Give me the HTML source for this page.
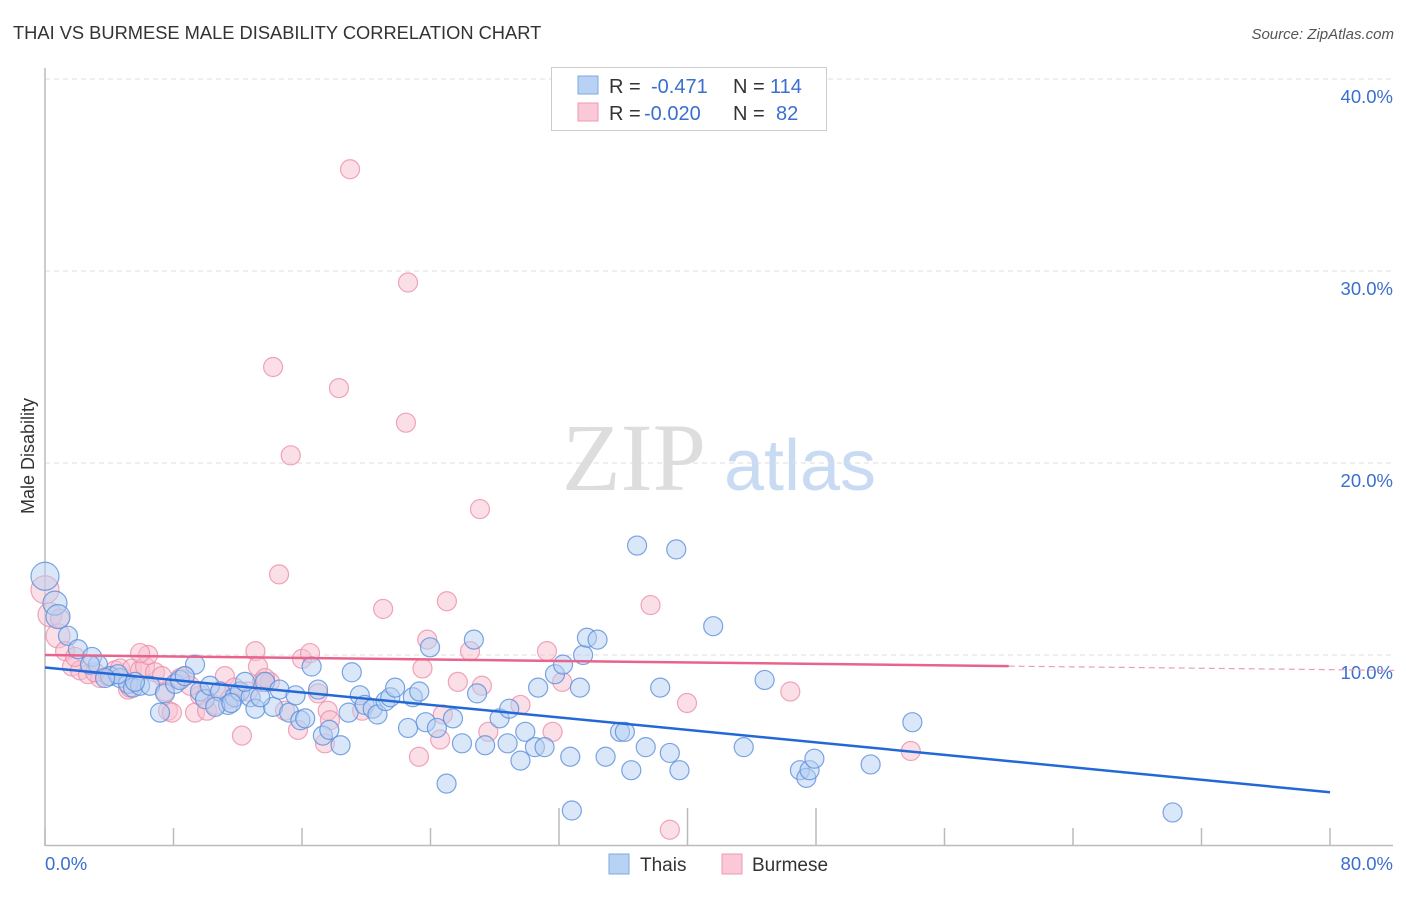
<!DOCTYPE html>
<html><head><meta charset="utf-8"><style>
body{margin:0;background:#fff;font-family:"Liberation Sans",sans-serif}
svg text{font-family:"Liberation Sans",sans-serif}
</style></head><body>
<svg id="c" width="1406" height="892" xmlns="http://www.w3.org/2000/svg">
<text x="13" y="39" font-size="18.3" fill="#333">THAI VS BURMESE MALE DISABILITY CORRELATION CHART</text>
<text x="1394" y="39" font-size="15" fill="#555" text-anchor="end" font-style="italic">Source: ZipAtlas.com</text>
<text x="34" y="456" font-size="18" fill="#333" text-anchor="middle" transform="rotate(-90 34 456)">Male Disability</text>
<g><text x="634" y="490" font-size="96" fill="#ddd" text-anchor="middle" font-family="Liberation Serif" style="font-family:'Liberation Serif',serif">ZIP</text><text x="800" y="490" font-size="72" fill="#c9dbf2" text-anchor="middle">atlas</text></g>
<g id="grid"></g><g id="axes"></g><g id="pts"></g><g id="trend"></g>
<g>
<rect x="551.5" y="67.5" width="275" height="63" fill="#fff" stroke="#ccc"/>
<rect x="578" y="76" width="20" height="18" fill="#b8d2f5" stroke="#7fa8e0"/>
<rect x="578" y="103" width="20" height="18" fill="#fac8d6" stroke="#ef9ab3"/>
<text x="609" y="93" font-size="20" fill="#333">R = </text><text x="651" y="93" font-size="20" fill="#3a6fd0">-0.471</text>
<text x="733" y="93" font-size="20" fill="#333">N = </text><text x="770" y="93" font-size="20" fill="#3a6fd0">114</text>
<text x="609" y="120" font-size="20" fill="#333">R = </text><text x="644" y="120" font-size="20" fill="#3a6fd0">-0.020</text>
<text x="733" y="120" font-size="20" fill="#333">N = </text><text x="776" y="120" font-size="20" fill="#3a6fd0">82</text>
</g>
<g>
<rect x="609" y="854" width="20" height="20" fill="#b8d2f5" stroke="#7fa8e0"/>
<text x="640" y="871" font-size="19" fill="#333">Thais</text>
<rect x="722" y="854" width="20" height="20" fill="#fac8d6" stroke="#ef9ab3"/>
<text x="752" y="871" font-size="19" fill="#333">Burmese</text>
</g>
</svg>
<script>
const yTicks=[10,20,30,40];
const yTickLabels=["10.0%","20.0%","30.0%","40.0%"];
const xTickLabels=["0.0%","80.0%"];
const thaiPts=[[0,14.1],[0.62,12.7],[0.81,12.0],[1.43,11.0],[2.05,10.3],[2.93,9.9],[3.3,9.5],[4.05,8.9],[4.67,8.8],[5.17,8.5],[5.48,8.3],[5.92,8.4],[6.54,8.4],[7.16,7.0],[7.47,8.0],[8.1,8.5],[8.4,8.7],[9.34,9.5],[9.65,8.1],[9.96,7.7],[10.27,8.4],[10.9,8.1],[11.4,7.4],[11.8,7.8],[12.14,8.1],[12.8,7.8],[13.1,7.2],[13.7,8.6],[14.2,7.3],[14.6,8.2],[15.2,7.0],[15.6,7.9],[15.9,6.6],[16.2,6.7],[16.6,9.4],[17.0,8.2],[17.3,5.8],[17.7,6.1],[18.4,5.3],[18.9,7.0],[19.1,9.1],[19.6,7.9],[19.9,7.4],[20.4,7.2],[20.7,6.9],[21.2,7.6],[21.5,7.8],[21.8,8.3],[22.6,6.2],[22.9,7.8],[23.3,8.1],[23.7,6.5],[23.97,10.4],[24.4,6.2],[25.0,3.3],[25.4,6.7],[25.96,5.4],[26.7,10.8],[26.9,8.0],[27.4,5.3],[28.3,6.7],[28.8,5.4],[28.9,7.2],[29.6,4.5],[29.9,6.0],[30.5,5.2],[30.7,8.3],[31.1,5.2],[31.75,9.0],[32.25,9.5],[32.7,4.7],[32.8,1.9],[33.3,8.3],[33.5,10.0],[33.74,10.9],[34.4,10.8],[34.9,4.7],[35.8,6.0],[36.1,6.0],[36.5,4.0],[36.86,15.7],[37.4,5.2],[38.3,8.3],[38.9,4.9],[39.3,15.5],[39.5,4.0],[41.6,11.5],[43.5,5.2],[44.8,8.7],[47.0,4.0],[47.4,3.6],[47.6,4.0],[47.9,4.6],[51.4,4.3],[54.0,6.5],[70.2,1.8],[4.54,9.0],[2.8,9.5],[3.74,8.8],[5.6,8.6],[8.7,8.9],[10.6,7.3],[12.45,8.6],[13.4,7.8],[11.6,7.5]];
const burPts=[[0,13.4],[0.31,12.1],[0.81,11.0],[1.25,10.2],[1.68,9.4],[2.18,9.2],[2.68,9.0],[3.43,8.8],[3.92,8.9],[4.36,9.2],[4.67,9.3],[5.17,8.2],[5.42,9.3],[5.92,9.2],[6.23,9.4],[6.42,10.0],[6.85,9.1],[7.28,8.9],[7.66,7.1],[7.9,7.0],[8.4,8.8],[8.7,8.9],[9.34,7.0],[9.65,7.9],[10.09,7.1],[10.6,7.4],[10.9,8.1],[11.2,8.9],[11.8,8.3],[12.26,5.8],[12.64,8.1],[13.1,10.2],[13.26,9.4],[13.5,8.6],[14.0,8.6],[14.57,14.2],[14.94,7.1],[15.3,20.4],[15.75,6.1],[16.0,9.8],[16.5,10.1],[17.0,8.0],[17.43,5.4],[17.6,7.1],[18.3,23.9],[18.99,35.3],[19.74,7.1],[21.05,12.4],[22.47,22.1],[22.6,29.4],[23.28,4.7],[23.5,9.3],[23.8,10.8],[24.6,5.6],[24.77,6.9],[25.02,12.8],[25.7,8.6],[26.46,10.2],[27.08,17.6],[27.2,8.4],[27.6,6.0],[29.6,7.4],[31.25,10.2],[31.6,6.0],[32.2,8.6],[37.7,12.6],[38.9,0.9],[39.97,7.5],[46.4,8.1],[53.9,5.0],[14.2,25.0],[5.92,10.1],[0.93,11.9],[1.87,9.9],[3.11,9.1],[7.47,8.1],[9.03,8.4],[5.29,8.3],[11.5,7.7],[13.7,8.8],[17.74,6.6]];
const thaiTrend=[[0,9.35],[80,2.85]];
const burTrend=[[0,10.0],[60,9.42]];
const burDash=[[60,9.42],[84,9.2]];
const X=v=>45+v/80*1285, Y=v=>847-v*19.2;
const NS="http://www.w3.org/2000/svg";
function mk(t,a,p){const e=document.createElementNS(NS,t);for(const k in a)e.setAttribute(k,a[k]);p.appendChild(e);return e;}
const grid=document.getElementById('grid'),axes=document.getElementById('axes'),pts=document.getElementById('pts'),tr=document.getElementById('trend');
yTicks.forEach((t,i)=>{
 const l=mk('line',{x1:45,x2:1393,y1:Y(t),y2:Y(t),stroke:'#ddd','stroke-dasharray':'5,4'},grid);
 
 
 const tx=mk('text',{x:1393,y:Y(t)+24,'font-size':18.5,fill:'#3a6fd0','text-anchor':'end'},grid);tx.textContent=yTickLabels[i];
 
 
});
const ya=mk('line',{x1:45,x2:45,y1:68,y2:846,stroke:'#bbb','stroke-width':1.5},axes);


const xa=mk('line',{x1:45,x2:1393,y1:845.5,y2:845.5,stroke:'#bbb','stroke-width':1.5},axes);


for(let i=0;i<=10;i++){const x=X(i*8);const tk=mk('line',{x1:x,x2:x,y1:(i==4||i==5||i==6)?808:828,y2:845,stroke:'#bbb','stroke-width':1.5},axes);
 
 }
[[0,'start',45],[80,'end',1393]].forEach((d,i)=>{const t=mk('text',{x:d[2],y:870,'font-size':18.5,fill:'#3a6fd0','text-anchor':d[1]},axes);t.textContent=xTickLabels[i];
 
 });
function dots(arr,fill,stroke,name){arr.forEach((p,i)=>{const r=i==0?14:(i<3?12:9.5);
 const c=mk('circle',{cx:X(p[0]),cy:Y(p[1]),r:r,fill:fill,'fill-opacity':0.5,stroke:stroke,'stroke-opacity':0.8,'stroke-width':1.2},pts);
 
 });}
dots(burPts,'#f8bfd0','#ec8fab','burmese-point');
dots(thaiPts,'#b5cff2','#5b8fdc','thai-point');
const t1=mk('line',{x1:X(thaiTrend[0][0]),y1:Y(thaiTrend[0][1]),x2:X(thaiTrend[1][0]),y2:Y(thaiTrend[1][1]),stroke:'#2369d6','stroke-width':2.5},tr);


const t2=mk('line',{x1:X(burTrend[0][0]),y1:Y(burTrend[0][1]),x2:X(burTrend[1][0]),y2:Y(burTrend[1][1]),stroke:'#e8648c','stroke-width':2.5},tr);


const t3=mk('line',{x1:X(burDash[0][0]),y1:Y(burDash[0][1]),x2:X(burDash[1][0]),y2:Y(burDash[1][1]),stroke:'#e8a0b6','stroke-width':1.2,'stroke-dasharray':'6,4'},tr);


</script>
</body></html>
